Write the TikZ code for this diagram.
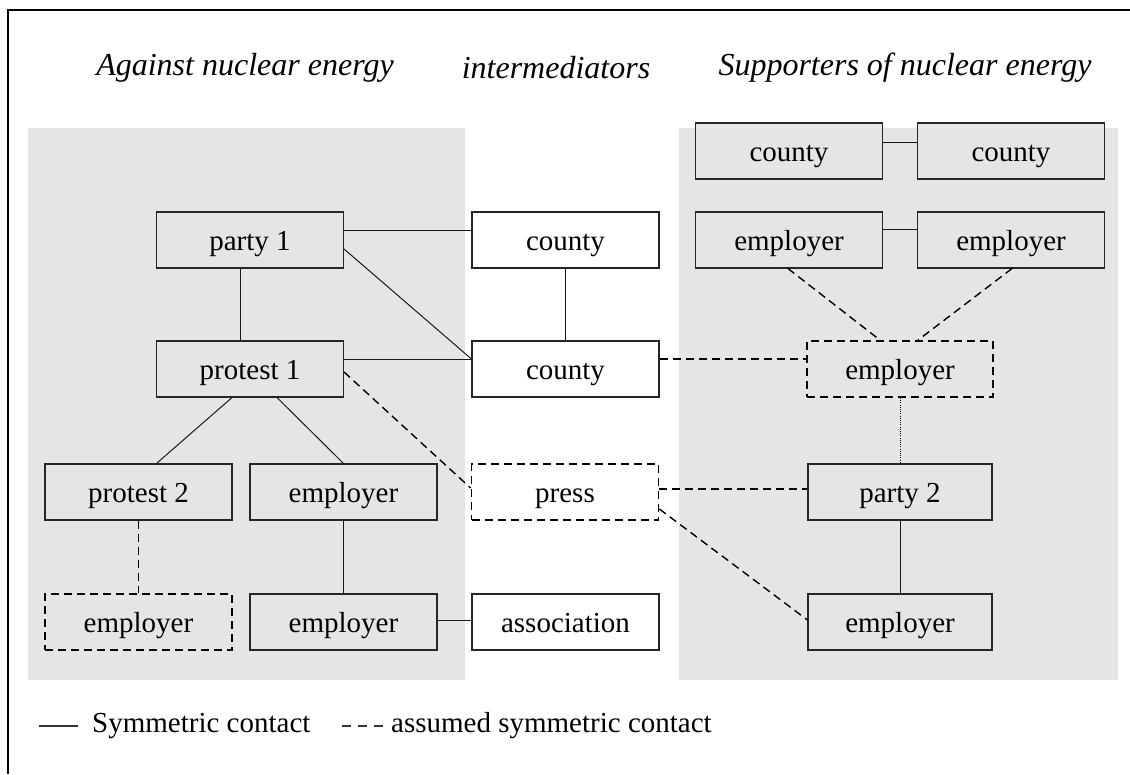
\documentclass[tikz,border=0pt]{standalone}
\usepackage{fontspec}
\setmainfont{Liberation Serif}
\usetikzlibrary{calc}
\tikzset{
  box/.style={draw=black!85, line width=1.1pt, fill=gray!20, minimum width=187pt, minimum height=56pt, inner sep=0pt, text height=21pt, text depth=1pt, font=\fontsize{29}{34}\selectfont},
  wbox/.style={box, fill=white},
  dbox/.style={box, draw=black, line width=1.8pt, dash pattern=on 8pt off 5pt},
  dwbox/.style={dbox, fill=white},
  con/.style={draw=black!90, line width=1pt},
  dcon/.style={draw=black, line width=1.4pt, dash pattern=on 8pt off 5pt},
  dotcon/.style={draw=black, line width=0.9pt, dash pattern=on 1pt off 1.2pt},
  head/.style={font=\fontsize{32}{38}\selectfont\itshape, inner sep=0pt},
  leg/.style={font=\fontsize{29}{34}\selectfont, inner sep=0pt, anchor=west},
  panel/.style={fill=gray!20, draw=none}
}
\begin{document}
\begin{tikzpicture}[x=1pt, y=-1pt]
\useasboundingbox (0,0) rectangle (1130,774);
\fill[white] (0,0) rectangle (1130,774);
% frame
\draw[line width=1.5pt] (8,774) -- (8,10) -- (1130,10);
% panels
\path[panel] (28,128) rectangle (465,680);
\path[panel] (679,128) rectangle (1118,680);
% headings
\node[head] (h1) at (245,68) {Against nuclear energy};
\node[head] (h2) at (556,68) {intermediators};
\node[head] (h3) at (905,68) {Supporters of nuclear energy};
% left nodes
\node[box] (party1) at (250,240) {party 1};
\node[box] (protest1) at (250,369) {protest 1};
\node[box] (protest2) at (138.5,492) {protest 2};
\node[box] (empL1) at (343.5,492) {employer};
\node[dbox] (empLd) at (138.5,622) {employer};
\node[box] (empL2) at (343.5,622) {employer};
% middle nodes
\node[wbox] (countyA) at (565.5,240) {county};
\node[wbox] (countyB) at (565.5,369) {county};
\node[dwbox] (press) at (565,492) {press};
\node[wbox] (assoc) at (565.5,622) {association};
% right nodes
\node[box] (countyR1) at (789,151) {county};
\node[box] (countyR2) at (1011,151) {county};
\node[box] (empR1) at (789,240) {employer};
\node[box] (empR2) at (1011,240) {employer};
\node[dbox, minimum width=186pt] (empRd) at (900,369) {employer};
\node[box, minimum width=184pt] (party2) at (900,492) {party 2};
\node[box, minimum width=184pt] (empR3) at (900,622) {employer};
% connectors solid
\draw[con] ($(party1.east)+(0,-10)$) -- ($(countyA.west)+(0,-10)$);
\draw[con] ($(party1.east)+(0,9)$) -- ($(countyB.west)+(0,-10)$);
\draw[con] ($(protest1.east)+(0,-10)$) -- ($(countyB.west)+(0,-10)$);
\draw[con] ($(party1.south)+(-10,0)$) -- ($(protest1.north)+(-10,0)$);
\draw[con] (countyA.south) -- (countyB.north);
\draw[con] ($(protest1.south)+(-18,0)$) -- ($(protest2.north)+(18,0)$);
\draw[con] ($(protest1.south)+(27,0)$) -- (empL1.north);
\draw[con] (empL1.south) -- (empL2.north);
\draw[con] ($(empL2.east)+(0,-2)$) -- ($(assoc.west)+(0,-2)$);
\draw[con] ($(countyR1.east)+(0,-9)$) -- ($(countyR2.west)+(0,-9)$);
\draw[con] ($(empR1.east)+(0,-11)$) -- ($(empR2.west)+(0,-11)$);
\draw[con] (party2.south) -- (empR3.north);
% connectors dashed
\draw[dcon] ($(countyB.east)+(0,-10)$) -- ($(empRd.west)+(0,-10)$);
\draw[dcon] ($(empR1.south)+(-1,0)$) -- ($(empRd.north)+(-20,0)$);
\draw[dcon] ($(empR2.south)+(1,0)$) -- ($(empRd.north)+(18,0)$);
\draw[dcon] ($(protest1.east)+(0,3)$) -- ($(press.west)+(0,-4)$);
\draw[dcon] ($(press.east)+(0,-3)$) -- ($(party2.west)+(0,-3)$);
\draw[dcon] ($(press.east)+(0,17)$) -- ($(empR3.west)+(0,-2)$);
\draw[dcon] (protest2.south) -- (empLd.north);
% dotted
\draw[dotcon] (empRd.south) -- (party2.north);
% legend
\coordinate (ls1) at (39,726);
\coordinate (le1) at (78,726);
\coordinate (ls2) at (342,726);
\coordinate (le2) at (383,726);
\draw[line width=1.2pt, draw=black!80] (ls1) -- (le1);
\draw[line width=1.2pt, draw=black!80, dash pattern=on 9pt off 7pt] (ls2) -- (le2);
\node[leg] (leg1) at (92,726) {Symmetric contact};
\node[leg] (leg2) at (391,726) {assumed symmetric contact};
\end{tikzpicture}
\end{document}
